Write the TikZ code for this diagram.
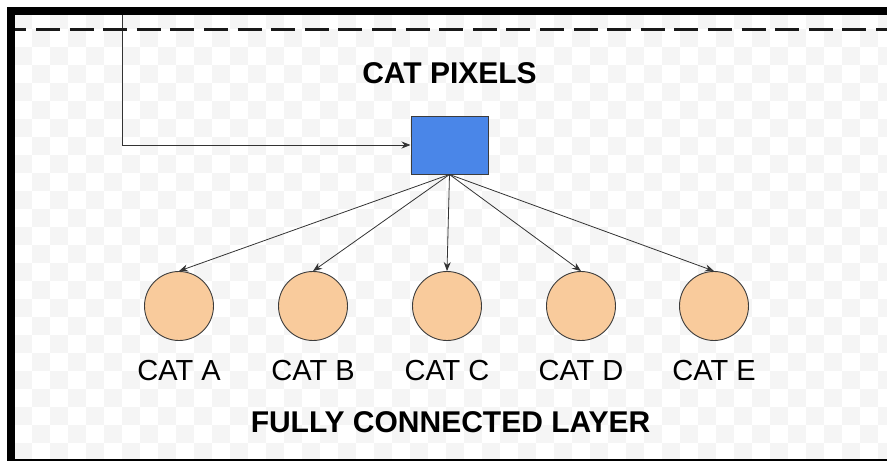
\documentclass[tikz,border=0pt]{standalone}
\usepackage{fontspec}
\setmainfont{Liberation Sans}
\usetikzlibrary{arrows.meta}
\definecolor{checkgrey}{RGB}{245,245,245}
\definecolor{pixblue}{RGB}{74,134,232}
\definecolor{catpeach}{RGB}{249,203,156}
\definecolor{edgegrey}{RGB}{60,60,60}
\tikzset{
  arr/.style={draw=black!80, line width=0.8pt, -{Stealth[length=9pt,width=7pt]}},
  catnode/.style={circle, draw=edgegrey, line width=0.9pt, fill=catpeach,
    minimum size=69pt, inner sep=0pt},
  pixbox/.style={draw=edgegrey, fill=pixblue, line width=1pt,
    minimum width=77pt, minimum height=58pt, inner sep=0pt},
  lbl/.style={font=\fontsize{29}{34}\selectfont, anchor=base, inner sep=0pt},
  heading/.style={font=\fontsize{30}{36}\selectfont\bfseries, anchor=base, inner sep=0pt}
}
\begin{document}
\begin{tikzpicture}[x=1pt,y=-1pt]
\useasboundingbox (0,0) rectangle (887,461);

% faint checkered backdrop inside the frame
\begin{scope}
  \clip (15,15) rectangle (887,460);
  \foreach \i in {0,...,49}{
    \foreach \j in {0,2,...,24}{
      \fill[checkgrey] ({14+18*\i},{11+18*(\j+mod(\i,2))}) rectangle ++(18,18);
    }
  }
\end{scope}

% frame
\fill[black] (7,7) rectangle (887,15);
\fill[black] (7,7) rectangle (15,461);
\draw[black, line width=1.2pt] (15,460) -- (887,460);

% input pixels and output categories
\node[pixbox] (px) at (449.5,145) {};
\node[catnode] (ca) at (179,306) {};
\node[catnode] (cb) at (313,306) {};
\node[catnode] (cc) at (447,306) {};
\node[catnode] (cd) at (581,306) {};
\node[catnode] (ce) at (714,306) {};

% connectors
\coordinate (src) at (122,15);
\draw[arr] (src) |- (px.west);
\draw[arr] (px.south) -- (ca.north);
\draw[arr] (px.south) -- (cb.north);
\draw[arr] (px.south) -- (cc.north);
\draw[arr] (px.south) -- (cd.north);
\draw[arr] (px.south) -- (ce.north);

% dashed rule under the top bar
\draw[black!90, line width=3pt, dash pattern=on 24pt off 9.6pt, dash phase=12.6pt]
  (15,29) -- (887,29);

% texts
\node[heading] (ttl) at (449.5,83) {CAT PIXELS};
\node[lbl] (la) at (179,380.5) {CAT A};
\node[lbl] (lb) at (313,380.5) {CAT B};
\node[lbl] (lc) at (447,380.5) {CAT C};
\node[lbl] (ld) at (581,380.5) {CAT D};
\node[lbl] (le) at (714,380.5) {CAT E};
\node[heading] (fcl) at (450.5,432.5) {FULLY CONNECTED LAYER};
\end{tikzpicture}
\end{document}
